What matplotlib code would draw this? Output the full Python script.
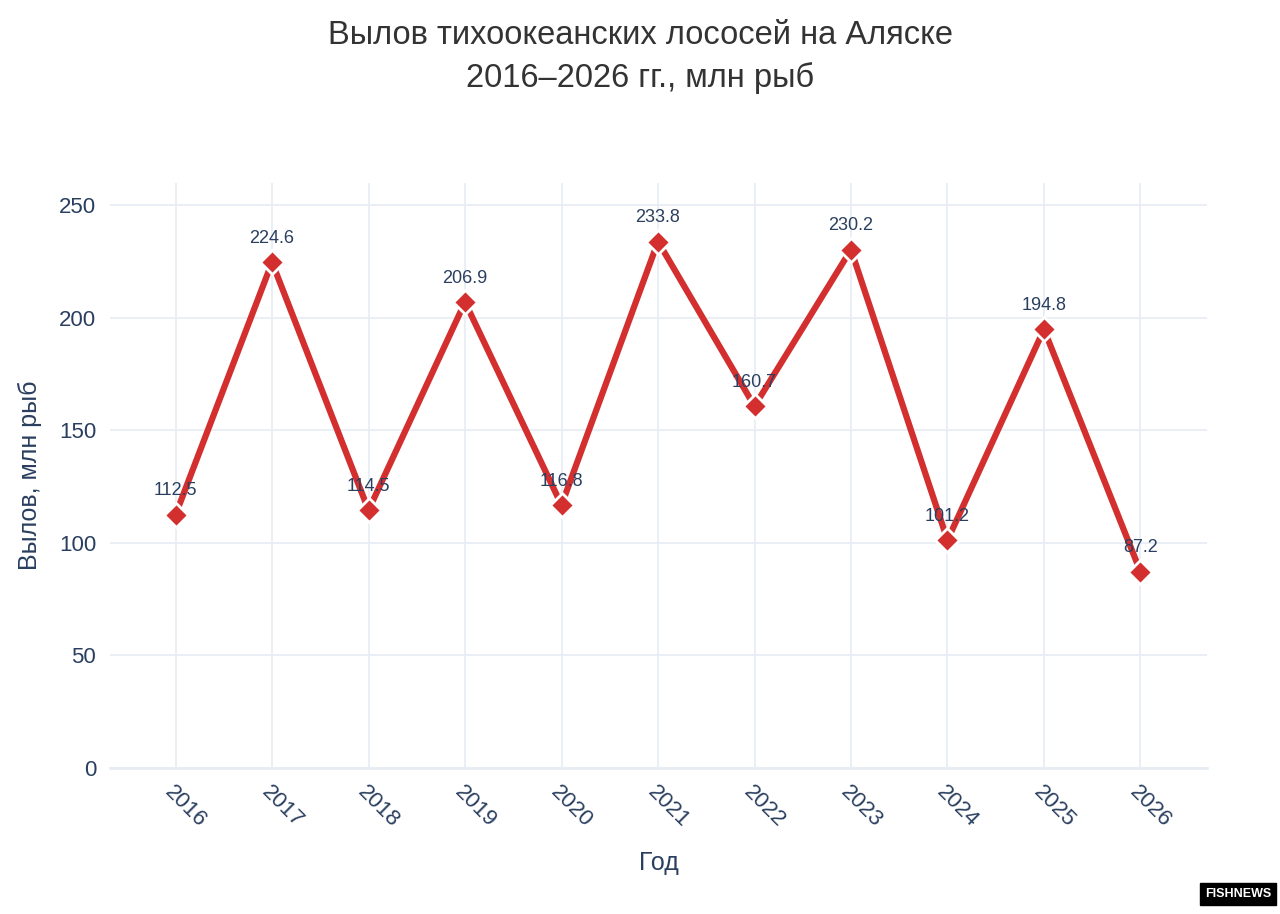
import matplotlib
matplotlib.use("Agg")
import matplotlib.pyplot as plt

years = [2016, 2017, 2018, 2019, 2020, 2021, 2022, 2023, 2024, 2025, 2026]
catch = [112.5, 224.6, 114.5, 206.9, 116.8, 233.8, 160.7, 230.2, 101.2, 194.8, 87.2]
yticks = [0, 50, 100, 150, 200, 250]

plt.rcParams['font.family'] = ['Liberation Sans', 'DejaVu Sans']
fig = plt.figure(figsize=(12.8, 9.14), dpi=100)
ax = fig.add_axes([0.0859, 0.1597, 0.8571, 0.6401])
txt = '#2a3f5f'
ax.plot(years, catch, color='#d32f2f', lw=4.5, marker='D', ms=12,
        markerfacecolor='#d32f2f', markeredgecolor='white', markeredgewidth=2, zorder=3)
for x, y in zip(years, catch):
    ax.annotate(f'{y:.1f}', (x, y), xytext=(0, 11), textcoords='offset points',
                ha='center', va='bottom', fontsize=13, color=txt, zorder=4)
ax.set_xlim(2015.32, 2026.69)
ax.set_ylim(0, 259.8)
ax.set_xticks(years)
ax.set_yticks(yticks)
ax.set_xticklabels([str(y) for y in years], rotation=-45, ha='left', rotation_mode='anchor')
ax.tick_params(axis='both', length=0, labelsize=16, labelcolor=txt)
ax.tick_params(axis='x', pad=10)
ax.tick_params(axis='y', pad=10)
ax.grid(True, color='#e8edf4', lw=1.3)
ax.set_axisbelow(True)
for s in ['top', 'right', 'left']:
    ax.spines[s].set_visible(False)
ax.spines['bottom'].set_color('#e8edf4')
ax.spines['bottom'].set_linewidth(2)
ax.set_xlabel('Год', fontsize=18, color=txt, labelpad=14)
ax.set_ylabel('Вылов, млн рыб', fontsize=18, color=txt)
ax.yaxis.set_label_coords(-0.062, 0.5)
fig.text(0.5, 0.961, 'Вылов тихоокеанских лососей на Аляске', ha='center', va='center',
         fontsize=23.5, color='#333333')
fig.text(0.5, 0.915, '2016–2026 гг., млн рыб', ha='center', va='center',
         fontsize=23.5, color='#333333')
fig.text(0.967, 0.022, 'FISHNEWS', ha='center', va='center', fontsize=9, color='white',
         weight='bold', bbox=dict(boxstyle='square,pad=0.4', fc='black', ec='black'))
fig.savefig('out.png', dpi=100, facecolor='white')
